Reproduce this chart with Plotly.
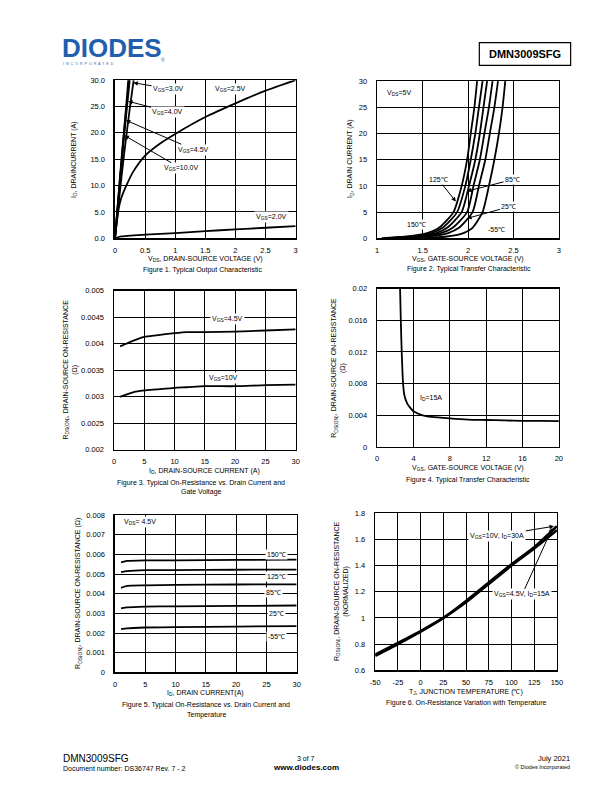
import plotly.graph_objects as go

FONT = "Liberation Sans, Arial, sans-serif"
W, H = 612, 792

# ---------------- Data ----------------
# Figure 1: Typical Output Characteristic (VDS vs ID)
f1_vds_10v = [0, 0.05, 0.10, 0.15, 0.20, 0.22]
f1_id_10v = [0, 7.0, 14.0, 20.5, 27.0, 30.0]
f1_vds_45v = [0, 0.05, 0.10, 0.15, 0.20, 0.235]
f1_id_45v = [0, 6.8, 13.5, 20.0, 26.0, 30.0]
f1_vds_40v = [0, 0.05, 0.10, 0.15, 0.20, 0.245]
f1_id_40v = [0, 6.5, 13.0, 19.2, 25.0, 30.0]
f1_vds_30v = [0, 0.05, 0.10, 0.15, 0.20, 0.25, 0.31]
f1_id_30v = [0, 5.5, 10.8, 15.8, 20.5, 25.0, 30.0]
f1_vds_25v = [0, 0.03, 0.06, 0.10, 0.15, 0.20, 0.30, 0.50, 0.75, 1.0, 1.5, 2.0, 2.5, 3.0]
f1_id_25v = [0, 3.0, 5.5, 7.5, 9.0, 10.3, 12.6, 15.7, 18.0, 19.8, 23.0, 25.6, 28.0, 30.0]
f1_vds_20v = [0, 0.1, 0.5, 1.0, 1.5, 2.0, 2.5, 3.0]
f1_id_20v = [0, 0.35, 0.7, 1.0, 1.35, 1.7, 2.0, 2.3]

# Figure 2: Typical Transfer Characteristic (VGS vs ID), six temperature curves
f2_id = [0.05, 0.3, 1, 2, 5, 10, 15, 20, 25, 30]
f2_vgs_150 = [1.05, 1.30, 1.55, 1.68, 1.84, 1.93, 1.99, 2.03, 2.07, 2.10]
f2_vgs_125 = [1.10, 1.35, 1.60, 1.72, 1.88, 1.97, 2.03, 2.08, 2.12, 2.16]
f2_vgs_100 = [1.15, 1.40, 1.65, 1.77, 1.93, 2.01, 2.08, 2.13, 2.17, 2.21]
f2_vgs_85 = [1.20, 1.45, 1.70, 1.83, 1.99, 2.06, 2.13, 2.18, 2.23, 2.27]
f2_vgs_25 = [1.30, 1.55, 1.78, 1.90, 2.05, 2.12, 2.19, 2.24, 2.29, 2.33]
f2_vgs_m55 = [1.50, 1.75, 1.95, 2.05, 2.16, 2.23, 2.29, 2.34, 2.38, 2.41]

# Figure 3: On-resistance vs drain current and gate voltage
f3_id = [1, 2, 3, 5, 7, 10, 12, 15, 20, 25, 30]
f3_r_45v = [0.00395, 0.00400, 0.00405, 0.00413, 0.00416, 0.00420, 0.00422, 0.00422, 0.00423, 0.00425, 0.00427]
f3_r_10v = [0.00300, 0.00304, 0.00308, 0.00312, 0.00314, 0.00317, 0.00318, 0.00320, 0.00320, 0.00322, 0.00323]

# Figure 4: On-resistance vs gate-source voltage, ID=15A
f4_vgs = [2.52, 2.6, 2.7, 2.85, 3.0, 3.3, 3.6, 4.0, 5, 6, 8, 10, 12, 14, 16, 18, 20]
f4_r = [0.02, 0.016, 0.012, 0.008, 0.0065, 0.0055, 0.0050, 0.0045, 0.0040, 0.0038, 0.0036,
        0.00345, 0.0034, 0.00335, 0.0033, 0.0033, 0.00325]

# Figure 5: On-resistance vs drain current and temperature
f5_id = [1, 2, 5, 10, 20, 30]
f5_r_150 = [0.00560, 0.00567, 0.00570, 0.00570, 0.00572, 0.00573]
f5_r_125 = [0.00510, 0.00515, 0.00520, 0.00520, 0.00522, 0.00523]
f5_r_85 = [0.00430, 0.00440, 0.00443, 0.00445, 0.00447, 0.00448]
f5_r_25 = [0.00325, 0.00330, 0.00334, 0.00336, 0.00338, 0.00340]
f5_r_m55 = [0.00220, 0.00224, 0.00228, 0.00230, 0.00233, 0.00235]

# Figure 6: normalized on-resistance vs junction temperature
f6_tj = [-50, -25, 0, 25, 50, 75, 100, 125, 150]
f6_r_10v = [0.71, 0.80, 0.895, 1.0, 1.13, 1.27, 1.41, 1.54, 1.70]
f6_r_45v = [0.72, 0.81, 0.90, 1.0, 1.12, 1.26, 1.40, 1.53, 1.67]

# Tick labels
f1_xt = [0, 0.5, 1, 1.5, 2, 2.5, 3]
f1_xl = ["0", "0.5", "1", "1.5", "2", "2.5", "3"]
f1_yt = [0, 5, 10, 15, 20, 25, 30]
f1_yl = ["0.0", "5.0", "10.0", "15.0", "20.0", "25.0", "30.0"]
f2_xt = [1, 1.5, 2, 2.5, 3]
f2_xl = ["1", "1.5", "2", "2.5", "3"]
f2_yt = [0, 5, 10, 15, 20, 25, 30]
f2_yl = ["0", "5", "10", "15", "20", "25", "30"]
f3_xt = [0, 5, 10, 15, 20, 25, 30]
f3_xl = ["0", "5", "10", "15", "20", "25", "30"]
f3_yt = [0.002, 0.0025, 0.003, 0.0035, 0.004, 0.0045, 0.005]
f3_yl = ["0.002", "0.0025", "0.003", "0.0035", "0.004", "0.0045", "0.005"]
f4_xt = [0, 4, 8, 12, 16, 20]
f4_xl = ["0", "4", "8", "12", "16", "20"]
f4_yt = [0, 0.004, 0.008, 0.012, 0.016, 0.02]
f4_yl = ["0", "0.004", "0.008", "0.012", "0.016", "0.02"]
f5_xt = [0, 5, 10, 15, 20, 25, 30]
f5_xl = ["0", "5", "10", "15", "20", "25", "30"]
f5_yt = [0, 0.001, 0.002, 0.003, 0.004, 0.005, 0.006, 0.007, 0.008]
f5_yl = ["0", "0.001", "0.002", "0.003", "0.004", "0.005", "0.006", "0.007", "0.008"]
f6_xt = [-50, -25, 0, 25, 50, 75, 100, 125, 150]
f6_xl = ["-50", "-25", "0", "25", "50", "75", "100", "125", "150"]
f6_yt = [0.6, 0.8, 1.0, 1.2, 1.4, 1.6, 1.8]
f6_yl = ["0.6", "0.8", "1", "1.2", "1.4", "1.6", "1.8"]

# ---------------- Figure ----------------
fig = go.Figure()


def px(x):
    return x / W


def py(y):
    return 1 - y / H


def add_line(x, y, n, width=1.8):
    fig.add_trace(go.Scatter(x=x, y=y, mode="lines", xaxis="x" + n, yaxis="y" + n,
                             line=dict(color="black", width=width, shape="spline", smoothing=0.6),
                             showlegend=False, hoverinfo="skip"))


add_line(f1_vds_20v, f1_id_20v, "1")
add_line(f1_vds_25v, f1_id_25v, "1")
add_line(f1_vds_30v, f1_id_30v, "1")
add_line(f1_vds_40v, f1_id_40v, "1")
add_line(f1_vds_45v, f1_id_45v, "1")
add_line(f1_vds_10v, f1_id_10v, "1")

for v in [f2_vgs_150, f2_vgs_125, f2_vgs_100, f2_vgs_85, f2_vgs_25, f2_vgs_m55]:
    add_line(v, f2_id, "2")

add_line(f3_id, f3_r_45v, "3")
add_line(f3_id, f3_r_10v, "3")

add_line(f4_vgs, f4_r, "4")

for r in [f5_r_150, f5_r_125, f5_r_85, f5_r_25, f5_r_m55]:
    add_line(f5_id, r, "5")

add_line(f6_tj, f6_r_10v, "6", width=2.6)
add_line(f6_tj, f6_r_45v, "6", width=2.6)

boxes = {
    "1": (112, 296, 77, 237, [0, 3], [0, 30], f1_xt, f1_xl, f1_yt, f1_yl),
    "2": (379, 564, 78, 237, [1, 3], [0, 30], f2_xt, f2_xl, f2_yt, f2_yl),
    "3": (111, 296, 290, 451, [0, 30], [0.002, 0.005], f3_xt, f3_xl, f3_yt, f3_yl),
    "4": (379, 564, 288, 448, [0, 20], [0, 0.02], f4_xt, f4_xl, f4_yt, f4_yl),
    "5": (112, 297, 517, 676, [0, 30], [0, 0.008], f5_xt, f5_xl, f5_yt, f5_yl),
    "6": (377, 562, 515, 674, [-50, 150], [0.6, 1.8], f6_xt, f6_xl, f6_yt, f6_yl),
}

layout_axes = {}
for n, (x0, x1, y0, y1, xr, yr, xt, xl, yt, yl) in boxes.items():
    common = dict(showgrid=True, gridcolor="black", gridwidth=1, showline=True,
                  linecolor="black", linewidth=1.5, mirror=True, zeroline=False,
                  ticks="", tickfont=dict(family=FONT, size=7.5, color="black"),
                  fixedrange=True, tickmode="array")
    key = "" if n == "1" else n
    layout_axes["xaxis" + key] = dict(common, domain=[px(x0), px(x1)], range=xr,
                                      anchor="y" + key, tickvals=xt, ticktext=xl,
                                      ticklabelstandoff=4)
    layout_axes["yaxis" + key] = dict(common, domain=[py(y1), py(y0)], range=yr,
                                      anchor="x" + key, tickvals=yt, ticktext=yl,
                                      ticklabelstandoff=7)

fig.update_layout(**layout_axes)

ann = []


def paper_text(text, x, y, size=7, rot=0, xanchor="center", bold=False, color="black"):
    if bold:
        text = "<b>" + text + "</b>"
    ann.append(dict(text=text, x=px(x), y=py(y), xref="paper", yref="paper",
                    showarrow=False, textangle=rot, xanchor=xanchor, yanchor="middle",
                    font=dict(family=FONT, size=size, color=color)))


def data_text(text, n, x, y, ax=None, ay=None):
    key = "" if n == "1" else n
    d = dict(text=text, xref="x" + key, yref="y" + key, bgcolor="white", borderpad=1,
             font=dict(family=FONT, size=7, color="black"))
    if ax is None:
        d.update(x=x, y=y, showarrow=False)
    else:
        d.update(x=x, y=y, ax=ax, ay=ay, axref="x" + key, ayref="y" + key,
                 showarrow=True, arrowhead=2, arrowsize=0.9, arrowwidth=1, arrowcolor="black")
    ann.append(d)


# Figure 1 labels
data_text("V<sub>GS</sub>=3.0V", "1", 0.305, 29.5, 0.89, 28.4)
data_text("V<sub>GS</sub>=2.5V", "1", 1.91, 28.3)
data_text("V<sub>GS</sub>=4.0V", "1", 0.218, 26.0, 0.88, 24.0)
data_text("V<sub>GS</sub>=4.5V", "1", 0.18, 22.4, 1.31, 16.8)
data_text("V<sub>GS</sub>=10.0V", "1", 0.158, 19.5, 1.09, 13.3)
data_text("V<sub>GS</sub>=2.0V", "1", 2.60, 3.95)

# Figure 2 labels
data_text("V<sub>DS</sub>=5V", "2", 1.245, 27.7)
data_text("125℃", "2", 1.866, 7.0, 1.675, 11.2)
data_text("85℃", "2", 1.99, 9.0, 2.49, 11.2)
data_text("25℃", "2", 1.99, 3.8, 2.45, 6.0)
data_text("150℃", "2", 1.43, 2.7)
data_text("-55℃", "2", 2.31, 1.6)

# Figure 3 labels
data_text("V<sub>GS</sub>=4.5V", "3", 18.8, 0.00447)
data_text("V<sub>GS</sub>=10V", "3", 18.0, 0.00335)

# Figure 4 labels
data_text("I<sub>D</sub>=15A", "4", 5.97, 0.0062)

# Figure 5 labels
data_text("V<sub>DS</sub>= 4.5V", "5", 4.05, 0.00766)
data_text("150℃", "5", 26.6, 0.00602)
data_text("125℃", "5", 26.6, 0.00489)
data_text("85℃", "5", 26.2, 0.00408)
data_text("25℃", "5", 26.6, 0.00299)
data_text("-55℃", "5", 26.6, 0.00182)

# Figure 6 labels
data_text("V<sub>GS</sub>=10V, I<sub>D</sub>=30A", "6", 146.8, 1.70, 84.4, 1.629)
data_text("V<sub>GS</sub>=4.5V, I<sub>D</sub>=15A", "6", 145.0, 1.687, 111.8, 1.179)

# Axis titles
paper_text("V<sub>DS</sub>, DRAIN-SOURCE VOLTAGE (V)", 204, 257.5)
paper_text("I<sub>D</sub>, DRAINCURRENT (A)", 70, 157, rot=-90)
paper_text("V<sub>GS</sub>, GATE-SOURCE VOLTAGE (V)", 471.5, 257.5)
paper_text("I<sub>D</sub>, DRAIN CURRENT (A)", 352, 157, rot=-90)
paper_text("I<sub>D</sub>, DRAIN-SOURCE CURRENT (A)", 203.5, 472.5)
paper_text("R<sub>DS(ON)</sub>, DRAIN-SOURCE ON-RESISTANCE<br>(Ω)", 67, 370, rot=-90)
paper_text("V<sub>GS</sub>, GATE-SOURCE VOLTAGE (V)", 471.5, 469)
paper_text("R<sub>DS(ON)</sub>, DRAIN-SOURCE ON-RESISTANCE<br>(Ω)", 340, 368, rot=-90)
paper_text("I<sub>D</sub>, DRAIN CURRENT(A)", 204.5, 697)
paper_text("R<sub>DS(ON)</sub>, DRAIN-SOURCE ON-RESISTANCE (Ω)", 75, 596, rot=-90)
paper_text("T<sub>J</sub>, JUNCTION TEMPERATURE (℃)", 469.5, 696)
paper_text("R<sub>DS(ON)</sub>, DRAIN-SOURCE ON-RESISTANCE<br>(NORMALIZED)", 342, 594, rot=-90)

# Captions
paper_text("Figure 1. Typical Output Characteristic", 201, 269.5)
paper_text("Figure 2. Typical Transfer Characteristic", 472, 268.5)
paper_text("Figure 3. Typical On-Resistance vs. Drain Current and", 200, 484)
paper_text("Gate Voltage", 200, 494)
paper_text("Figure 4. Typical Transfer Characteristic", 471, 481)
paper_text("Figure 5. Typical On-Resistance vs. Drain Current and", 205, 709)
paper_text("Temperature", 205, 719.5)
paper_text("Figure 6. On-Resistance Variation with Temperature", 470, 707)

# Header
paper_text("DIODES", 56, 44, size=26, xanchor="left", bold=True, color="#1f5fae")
paper_text("I  N  C  O  R  P  O  R  A  T  E  D", 57, 61, size=3.6, xanchor="left", color="#1f5fae")
paper_text("®", 157, 57, size=5, xanchor="left", color="#1f5fae")
paper_text("DMN3009SFG", 529.5, 50.5, size=11, bold=True)

# Footer
paper_text("DMN3009SFG", 57, 763, size=10, xanchor="left")
paper_text("Document number: DS36747 Rev. 7 - 2", 57, 773, size=7, xanchor="left")
paper_text("3 of 7", 306, 763, size=7)
paper_text("www.diodes.com", 306, 772.5, size=8, bold=True)
paper_text("July 2021", 577, 763, size=7.5, xanchor="right")
paper_text("© Diodes Incorporated", 577, 772, size=5.5, xanchor="right")

fig.update_layout(
    annotations=ann,
    width=W, height=H, autosize=False,
    margin=dict(l=0, r=0, t=0, b=0),
    paper_bgcolor="white", plot_bgcolor="white",
    showlegend=False,
    font=dict(family=FONT, color="black"),
    shapes=[dict(type="rect", xref="paper", yref="paper",
                 x0=px(483), x1=px(576), y0=py(62), y1=py(39),
                 line=dict(color="black", width=1.2), fillcolor="rgba(0,0,0,0)")],
)

fig.write_html("out.html",
               config={"displayModeBar": False, "staticPlot": True},
               post_script="document.body.style.margin='0px';document.body.style.overflow='hidden';")
